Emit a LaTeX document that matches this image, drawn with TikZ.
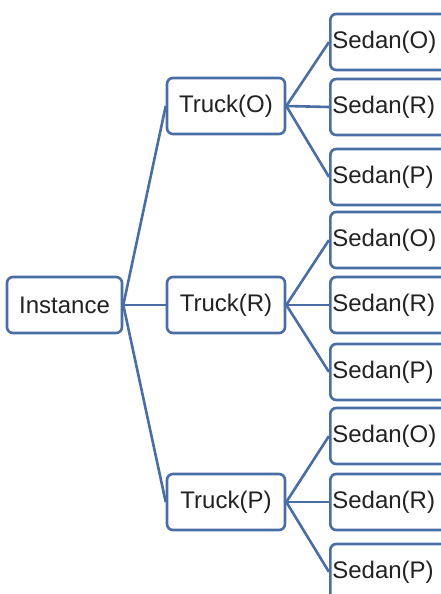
\documentclass[tikz,border=0pt]{standalone}
\usepackage{fontspec}
\setmainfont{Liberation Sans}
\definecolor{boxblue}{HTML}{4A6EA3}
\definecolor{txt}{HTML}{222222}
\begin{document}
\begin{tikzpicture}[x=1pt,y=-1pt,
  box/.style={draw=boxblue, line width=2.6pt, rounded corners=6pt, fill=white,
    text=txt, font=\fontsize{24}{28}\selectfont, minimum height=56pt, inner sep=1pt},
  inst/.style={box, minimum width=115pt},
  truck/.style={box, minimum width=118pt},
  sedan/.style={box, anchor=west, text width=127pt, align=left, inner xsep=2pt},
  conn/.style={draw=boxblue, line width=2.6pt}]
\useasboundingbox (0,0) rectangle (441,594);
\clip (0,0) rectangle (441,594);
\fill[white] (0,0) rectangle (441,594);

\node[inst] (inst) at (64.5,305) {Instance};
\node[truck] (tO) at (226,106) {Truck(O)};
\node[truck] (tR) at (226,305) {Truck(R)};
\node[truck] (tP) at (226,502) {Truck(P)};

\node[sedan] (sOO) at (329,42) {Sedan(O)};
\node[sedan] (sOR) at (329,107) {Sedan(R)};
\node[sedan] (sOP) at (329,177) {Sedan(P)};

\node[sedan] (sRO) at (329,240) {Sedan(O)};
\node[sedan] (sRR) at (329,305) {Sedan(R)};
\node[sedan] (sRP) at (329,372) {Sedan(P)};

\node[sedan] (sPO) at (329,436) {Sedan(O)};
\node[sedan] (sPR) at (329,502) {Sedan(R)};
\node[sedan] (sPP) at (329,572) {Sedan(P)};

\foreach \t in {tO,tR,tP} \draw[conn] (inst.east) -- (\t.west);
\foreach \s in {sOO,sOR,sOP} \draw[conn] (tO.east) -- (\s.west);
\foreach \s in {sRO,sRR,sRP} \draw[conn] (tR.east) -- (\s.west);
\foreach \s in {sPO,sPR,sPP} \draw[conn] (tP.east) -- (\s.west);
\end{tikzpicture}
\end{document}
